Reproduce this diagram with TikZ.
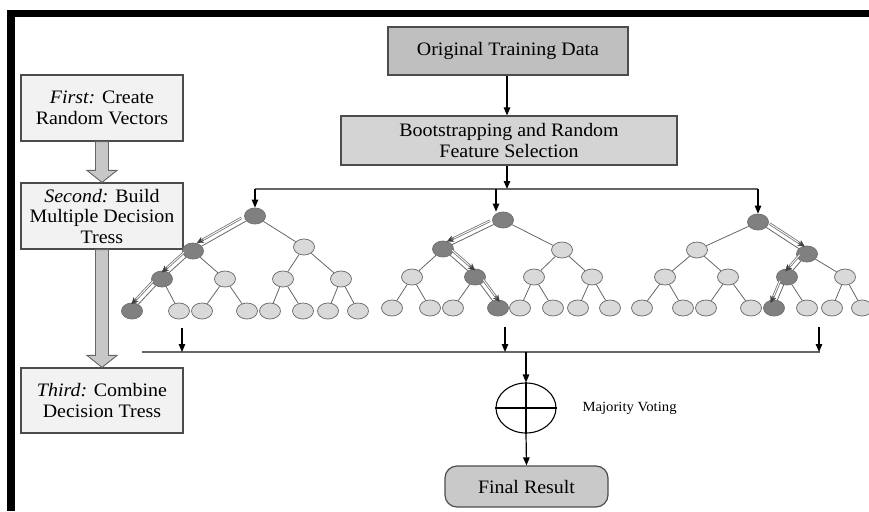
\documentclass[tikz,border=0pt]{standalone}
\usepackage{fontspec}
\setmainfont{Liberation Serif}[FakeStretch=1.05]
\usetikzlibrary{shapes.geometric,arrows.meta,calc}

\tikzset{
  boxfont/.style={font=\fontsize{19}{20.5}\selectfont},
  sidebox/.style={boxfont, draw=black!70, line width=1.2pt, fill=black!5,
    minimum width=162pt, minimum height=66pt, align=center, inner sep=0pt},
  databox/.style={boxfont, draw=black!70, line width=1.2pt, fill=black!25,
    minimum width=240pt, minimum height=48pt, inner sep=0pt},
  bootbox/.style={boxfont, draw=black!70, line width=1.2pt, fill=black!17,
    minimum width=336pt, minimum height=49pt, align=center, inner sep=0pt},
  resultbox/.style={boxfont, draw=black!70, line width=1.2pt, fill=black!21,
    rounded corners=12pt, minimum width=163pt, minimum height=41pt, inner sep=0pt},
  tn/.style={ellipse, draw=black!55, line width=0.8pt, fill=black!15,
    minimum width=21pt, minimum height=16pt, inner sep=0pt},
  tdark/.style={tn, fill=black!50},
  edge/.style={draw=black!60, line width=0.8pt},
  arr/.style={draw=black, line width=1.2pt, -{Triangle[length=8pt,width=6.5pt]}},
  hline/.style={draw=black!60, line width=1.4pt},
  pushouter/.style={draw=black!55, line width=2.5pt,
    -{Stealth[length=7pt,width=6.5pt,line width=0.3pt,color=black!75,fill=black!75]}},
  pushinner/.style={draw=white, line width=0.9pt, shorten >=7.5pt},
  bigarrow/.style={draw=black!60, line width=0.9pt, fill=black!22},
}

% offset double arrow running beside a tree edge
\newcommand{\pushpath}[3]{%
  \coordinate (pa) at ($(#1)!0.18!(#2)!5pt!#3:(#2)$);
  \coordinate (pb) at ($(#1)!0.9!(#2)!5pt!#3:(#2)$);
  \draw[pushouter] (pa) -- (pb);
  \draw[pushinner] (pa) -- (pb);}

\begin{document}
\begin{tikzpicture}[x=1pt, y=-1pt]
\useasboundingbox (0,0) rectangle (869,511);

% frame bars
\fill[black] (7,10) rectangle (869,17);
\fill[black] (7,10) rectangle (15,511);

% stage boxes on the left
\node[sidebox] (s1) at (102,108) {\textit{First:} Create\\Random Vectors};
\node[sidebox] (s2) at (102,216) {\textit{Second:} Build\\Multiple Decision\\Tress};
\node[sidebox, minimum height=65pt] (s3) at (102,400.5) {\textit{Third:} Combine\\Decision Tress};

% broad gray arrows between stages
\draw[bigarrow] ($(s1.south)+(-6.5,0)$) -- ($(s2.north)+(-6.5,-12)$)
  -- ($(s2.north)+(-15,-12)$) -- (s2.north) -- ($(s2.north)+(15,-12)$)
  -- ($(s2.north)+(6.5,-12)$) -- ($(s1.south)+(6.5,0)$) -- cycle;
\draw[bigarrow] ($(s2.south)+(-6.5,0)$) -- ($(s3.north)+(-6.5,-12)$)
  -- ($(s3.north)+(-15,-12)$) -- (s3.north) -- ($(s3.north)+(15,-12)$)
  -- ($(s3.north)+(6.5,-12)$) -- ($(s2.south)+(6.5,0)$) -- cycle;

% data flow at the top
\node[databox] (data) at (508,51) {Original Training Data};
\node[bootbox] (boot) at (509,140.5) {Bootstrapping and Random\\Feature Selection};
\draw[arr] (data.south -| 507,0) -- (boot.north -| 507,0);

\coordinate (hubT) at (507,189);
\coordinate (topL) at (255,189);
\coordinate (topM) at (496,189);
\coordinate (topR) at (758,189);
\draw[arr] (boot.south -| hubT) -- (hubT);
\draw[hline, line width=1.1pt] (topL) -- (topR);

% tree 1
\node[tdark] (t1r) at (255,216) {};
\node[tdark] (t1a) at (193,251) {};
\node[tn] (t1b) at (304,247) {};
\node[tdark] (t1aa) at (162,279) {};
\node[tn] (t1ab) at (225,279) {};
\node[tn] (t1ba) at (283,279) {};
\node[tn] (t1bb) at (341,279) {};
\node[tdark] (t1aaa) at (132,311) {};
\node[tn] (t1aab) at (179,311) {};
\node[tn] (t1aba) at (202,311) {};
\node[tn] (t1abb) at (247,311) {};
\node[tn] (t1baa) at (270,311) {};
\node[tn] (t1bab) at (303,311) {};
\node[tn] (t1bba) at (328,311) {};
\node[tn] (t1bbb) at (358,311) {};

% tree 2
\node[tdark] (t2r) at (503,220) {};
\node[tdark] (t2a) at (443,249) {};
\node[tn] (t2b) at (562,250) {};
\node[tn] (t2aa) at (412,277) {};
\node[tdark] (t2ab) at (475,277) {};
\node[tn] (t2ba) at (534,277) {};
\node[tn] (t2bb) at (592,277) {};
\node[tn] (t2aaa) at (392,308) {};
\node[tn] (t2aab) at (430,308) {};
\node[tn] (t2aba) at (453,308) {};
\node[tdark] (t2abb) at (498,308) {};
\node[tn] (t2baa) at (520,308) {};
\node[tn] (t2bab) at (553,308) {};
\node[tn] (t2bba) at (578,308) {};
\node[tn] (t2bbb) at (610,308) {};

% tree 3
\node[tdark] (t3r) at (758,222) {};
\node[tn] (t3a) at (697,250) {};
\node[tdark] (t3b) at (807,254) {};
\node[tn] (t3aa) at (665,277) {};
\node[tn] (t3ab) at (728,277) {};
\node[tdark] (t3ba) at (787,277) {};
\node[tn] (t3bb) at (845,277) {};
\node[tn] (t3aaa) at (642,308) {};
\node[tn] (t3aab) at (683,308) {};
\node[tn] (t3aba) at (706,308) {};
\node[tn] (t3abb) at (751,308) {};
\node[tdark] (t3baa) at (774,308) {};
\node[tn] (t3bab) at (807,308) {};
\node[tn] (t3bba) at (832,308) {};
\node[tn] (t3bbb) at (862,308) {};

% tree edges
\foreach \t in {1,2,3}{
  \foreach \p/\c in {r/a, r/b, a/aa, a/ab, b/ba, b/bb,
      aa/aaa, aa/aab, ab/aba, ab/abb, ba/baa, ba/bab, bb/bba, bb/bbb}{
    \draw[edge] (t\t\p) -- (t\t\c);
  }
}

% roots fed from the top line
\draw[arr] (topL) -- (t1r.north);
\draw[arr] (topM) -- (topM |- t2r.north);
\draw[arr] (topR) -- (t3r.north);

% decision paths
\pushpath{t1r}{t1a}{-90}
\pushpath{t1a}{t1aa}{-90}
\pushpath{t1aa}{t1aaa}{-90}
\pushpath{t2r}{t2a}{-90}
\pushpath{t2a}{t2ab}{90}
\pushpath{t2ab}{t2abb}{90}
\pushpath{t3r}{t3b}{90}
\pushpath{t3b}{t3ba}{-90}
\pushpath{t3ba}{t3baa}{-90}

% outputs collected on the bottom line
\coordinate (o1) at (182,328);
\coordinate (o2) at (505,327);
\coordinate (o3) at (819,327);
\coordinate (botL) at (142,352);
\coordinate (botR) at (820,352);
\coordinate (join) at (526,352);
\draw[hline] (botL) -- (botR);
\draw[arr] (o1) -- (o1 |- botL);
\draw[arr] (o2) -- (o2 |- botL);
\draw[arr] (o3) -- (o3 |- botL);

% voting and result
\node[ellipse, draw=black, line width=1.1pt, minimum width=60pt, minimum height=50pt,
  inner sep=0pt] (vote) at (526,408) {};
\draw[line width=1.1pt] (vote.north) -- (vote.south) (vote.west) -- (vote.east);
\node[anchor=west, font=\fontsize{14}{16}\selectfont] (mv) at (579,408) {Majority Voting};
\node[resultbox] (fin) at (526.5,486.5) {Final Result};
\draw[arr] (join) -- (vote.north);
\draw[arr] (vote.south) -- (fin.north);
\end{tikzpicture}
\end{document}
